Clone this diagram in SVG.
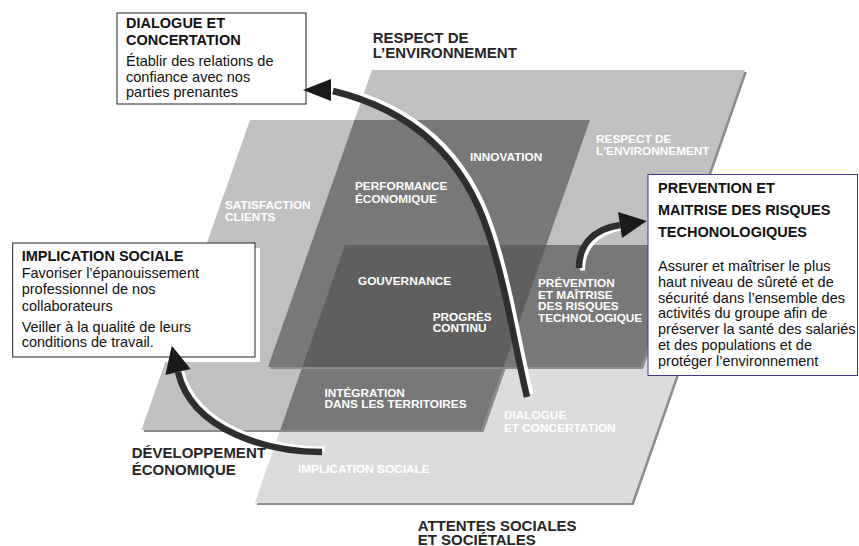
<svg xmlns="http://www.w3.org/2000/svg" width="859" height="546" viewBox="0 0 859 546">
  <defs>
    <style>
      .sh { fill: #8c8c8c; }
      .lt { fill: #c0c0c0; }
      .xl { fill: #dcdcdc; }
      .md { fill: #787878; }
      .dk { fill: #5f5f5f; }
      text { font-family: "Liberation Sans", Arial, Helvetica, sans-serif; }
      .lbl { font-size: 11.8px; font-weight: bold; fill: #ffffff; }
      .hd { font-size: 15px; font-weight: bold; fill: #262626; }
      .bt { font-size: 14.5px; font-weight: bold; fill: #111111; }
      .bd { font-size: 14.5px; fill: #111111; }
      .box { fill: #ffffff; stroke: #222222; stroke-width: 1; }
      .wire { fill: none; stroke: #2e2e2e; stroke-width: 6.5; }
      .hl { fill: none; stroke: #ffffff; stroke-width: 5; }
      .head { fill: #1a1a1a; }
    </style>
  </defs>

  <rect width="859" height="546" fill="#ffffff"/>

  <!-- three overlapping planes, drawn as rectangles in sheared space -->
  <g id="planes" transform="matrix(1 0 -0.35 1 0 0)">
    <g id="plane-social">
      <rect class="sh" x="433.45" y="247" width="377" height="258"/>
      <rect class="xl" x="430.75" y="245" width="377" height="258"/>
    </g>
    <g id="plane-economic">
      <rect class="sh" x="294.7" y="122" width="340" height="310"/>
      <rect class="lt" x="292" y="120" width="340" height="310"/>
      <rect class="md" x="430.75" y="245" width="201.25" height="185"/>
    </g>
    <g id="plane-environment">
      <rect class="sh" x="399.2" y="72" width="373" height="297"/>
      <rect class="lt" x="396.5" y="70" width="373" height="297"/>
      <rect class="md" x="396.5" y="120" width="235.5" height="247"/>
      <rect class="md" x="430.75" y="245" width="338.75" height="122"/>
      <rect class="dk" x="430.75" y="245" width="201.25" height="122"/>
    </g>
  </g>

  <!-- labels printed on the plane regions -->
  <g id="region-labels">
    <g id="lbl-satisfaction"><text class="lbl" x="225" y="209">SATISFACTION</text><text class="lbl" x="225" y="221">CLIENTS</text></g>
    <g id="lbl-performance"><text class="lbl" x="355" y="190">PERFORMANCE</text><text class="lbl" x="355" y="202.5">ÉCONOMIQUE</text></g>
    <g id="lbl-innovation"><text class="lbl" x="470" y="160.5">INNOVATION</text></g>
    <g id="lbl-respect"><text class="lbl" x="596" y="143">RESPECT DE</text><text class="lbl" x="596" y="155">L'ENVIRONNEMENT</text></g>
    <g id="lbl-gouvernance"><text class="lbl" x="358" y="285">GOUVERNANCE</text></g>
    <g id="lbl-progres"><text class="lbl" x="432.7" y="320.5">PROGRÈS</text><text class="lbl" x="432.7" y="332">CONTINU</text></g>
    <g id="lbl-prevention">
      <text class="lbl" x="538" y="287">PRÉVENTION</text>
      <text class="lbl" x="538" y="298.7">ET MAÎTRISE</text>
      <text class="lbl" x="538" y="310.3">DES RISQUES</text>
      <text class="lbl" x="538" y="322">TECHNOLOGIQUE</text>
    </g>
    <g id="lbl-integration"><text class="lbl" x="324.5" y="396.5">INTÉGRATION</text><text class="lbl" x="324.5" y="408">DANS LES TERRITOIRES</text></g>
    <g id="lbl-dialogue"><text class="lbl" x="504" y="419.3">DIALOGUE</text><text class="lbl" x="504" y="431.7">ET CONCERTATION</text></g>
    <g id="lbl-implication"><text class="lbl" x="298" y="472.7">IMPLICATION SOCIALE</text></g>
  </g>

  <!-- plane titles -->
  <g id="title-environment"><text class="hd" x="372.7" y="43.3">RESPECT DE</text><text class="hd" x="372.7" y="58.3">L’ENVIRONNEMENT</text></g>
  <g id="title-economic"><text class="hd" x="131.7" y="458">DÉVELOPPEMENT</text><text class="hd" x="131.7" y="475">ÉCONOMIQUE</text></g>
  <g id="title-social"><text class="hd" x="417.7" y="531">ATTENTES SOCIALES</text><text class="hd" x="417.7" y="545">ET SOCIÉTALES</text></g>

  <!-- callout boxes -->
  <g id="box-dialogue">
    <rect class="box" x="117" y="13" width="189" height="91"/>
    <text class="bt" x="126" y="28.3">DIALOGUE ET</text>
    <text class="bt" x="126" y="45">CONCERTATION</text>
    <text class="bd" x="126" y="65.7">Établir des relations de</text>
    <text class="bd" x="126" y="81.7">confiance avec nos</text>
    <text class="bd" x="126" y="96.7">parties prenantes</text>
  </g>

  <g id="box-implication">
    <rect x="17.7" y="248" width="242.3" height="114" fill="#ffffff"/>
    <rect class="box" x="12.7" y="243" width="242.3" height="114"/>
    <text class="bt" x="21.7" y="261">IMPLICATION SOCIALE</text>
    <text class="bd" x="21.7" y="278">Favoriser l’épanouissement</text>
    <text class="bd" x="21.7" y="294.3">professionnel de nos</text>
    <text class="bd" x="21.7" y="310.7">collaborateurs</text>
    <text class="bd" x="21.7" y="331.7">Veiller à la qualité de leurs</text>
    <text class="bd" x="21.7" y="347.3">conditions de travail.</text>
  </g>

  <g id="box-prevention">
    <rect x="648" y="174.5" width="209.5" height="201" fill="#ffffff" stroke="#3c3c96" stroke-width="1"/>
    <text class="bt" x="658" y="193.3">PREVENTION ET</text>
    <text class="bt" x="658" y="215">MAITRISE DES RISQUES</text>
    <text class="bt" x="658" y="237.3">TECHONOLOGIQUES</text>
    <text class="bd" x="658" y="271">Assurer et maîtriser le plus</text>
    <text class="bd" x="658" y="286.7">haut niveau de sûreté et de</text>
    <text class="bd" x="658" y="302.7">sécurité dans l’ensemble des</text>
    <text class="bd" x="658" y="318">activités du groupe afin de</text>
    <text class="bd" x="658" y="334">préserver la santé des salariés</text>
    <text class="bd" x="658" y="350">et des populations et de</text>
    <text class="bd" x="658" y="366">protéger l’environnement</text>
  </g>

  <!-- curved arrows -->
  <g id="connectors">
    <g id="arrow-dialogue">
      <path class="hl" transform="translate(4,-3)" d="M527,397 C514,342 506,286 488,232 C463,156 411,110 333,91"/>
      <path class="wire" d="M527,397 C514,342 506,286 488,232 C463,156 411,110 333,91"/>
      <polygon class="head" points="303,90 331,79 331,101"/>
    </g>
    <g id="arrow-implication">
      <path class="hl" transform="translate(3,-3)" d="M322,452 C270,452 192,432 178,372"/>
      <path class="wire" d="M322,452 C270,452 192,432 178,372"/>
      <polygon class="head" points="171.8,345.8 190.6,369 165.4,375"/>
    </g>
    <g id="arrow-prevention">
      <path class="hl" transform="translate(3.5,2.5)" d="M579,268 C579,245 593,229 620,225"/>
      <path class="wire" d="M579,268 C579,245 593,229 620,225"/>
      <polygon class="head" points="646.7,221 618,212 622,238"/>
    </g>
  </g>
</svg>
